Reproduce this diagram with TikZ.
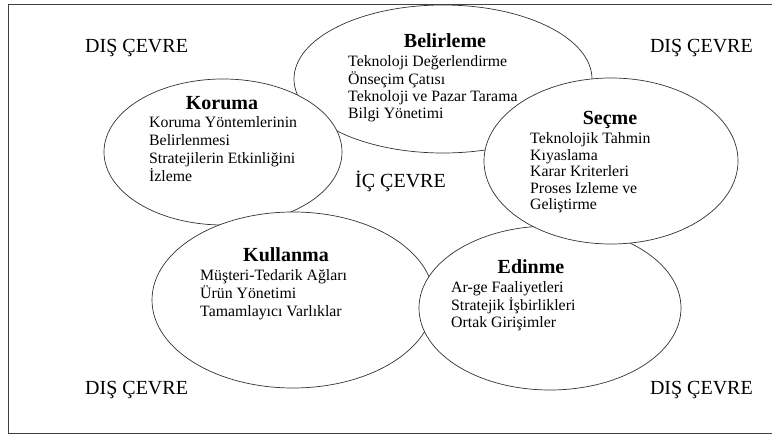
\documentclass[tikz,border=0pt]{standalone}
\usepackage{fontspec}
\setmainfont{Liberation Serif}
\tikzset{
    zone/.style={draw=black!80, line width=0.7pt, fill=white},
    zonetitle/.style={font=\fontsize{20}{22}\selectfont\bfseries, anchor=base, inner sep=0pt},
    zoneitem/.style={font=\fontsize{15.8}{17}\selectfont, anchor=base west, inner sep=0pt},
    envlabel/.style={font=\fontsize{20}{22}\selectfont, inner sep=0pt},
}
% one block of item lines: name, x, first baseline, line step, lines
\newcommand{\xitems}[5]{%
    \foreach \t [count=\k] in {#5}{%
        \node[zoneitem] (#1-\k) at (#2,#3+\k*#4-#4) {\t};
    }%
}

\begin{document}
\begin{tikzpicture}[x=1pt, y=-1pt]
        \useasboundingbox (0,0) rectangle (772,438);

        % ---------------- frame ----------------
        \draw[black!75, line width=0.8pt] (8,4) rectangle (790,433);

        % ---------------- zones ----------------
        \draw[zone] (443,79) ellipse [x radius=149, y radius=74];   % Belirleme
        \draw[zone] (223,152) ellipse [x radius=119, y radius=73];  % Koruma
        \draw[zone] (293,300) ellipse [x radius=141, y radius=88];  % Kullanma
        \draw[zone] (550,308) ellipse [x radius=131, y radius=82];  % Edinme
        \draw[zone] (611,161) ellipse [x radius=127, y radius=83];  % Secme

        % ---------------- zone texts ----------------
        \node[zonetitle] (belirleme) at (445,48) {Belirleme};
        \xitems{bel}{348}{67}{17.1}{Teknoloji Değerlendirme, Önseçim Çatısı,
            Teknoloji ve Pazar Tarama, Bilgi Yönetimi}

        \node[zonetitle] (koruma) at (222,110) {Koruma};
        \xitems{kor}{149}{128}{17.8}{Koruma Yöntemlerinin, Belirlenmesi,
            Stratejilerin Etkinliğini, İzleme}

        \node[zonetitle] (secme) at (610,125) {Seçme};
        \xitems{sec}{530}{144}{16.4}{Teknolojik Tahmin, Kıyaslama,
            Karar Kriterleri, Proses Izleme ve, Geliştirme}

        \node[zonetitle] (kullanma) at (286,262) {Kullanma};
        \xitems{kul}{200}{281}{17.8}{Müşteri-Tedarik Ağları, Ürün Yönetimi,
            Tamamlayıcı Varlıklar}

        \node[zonetitle] (edinme) at (531,274) {Edinme};
        \xitems{edi}{451}{293}{17.1}{Ar-ge Faaliyetleri, Stratejik İşbirlikleri,
            Ortak Girişimler}

        % ---------------- environment ----------------
        \node[envlabel, anchor=base west] (ic) at (355,188) {İÇ ÇEVRE};
        \node[envlabel, anchor=base west] (dis-nw) at (85,53) {DIŞ ÇEVRE};
        \node[envlabel, anchor=base east] (dis-ne) at (753,53) {DIŞ ÇEVRE};
        \node[envlabel, anchor=base west] (dis-sw) at (85,395) {DIŞ ÇEVRE};
        \node[envlabel, anchor=base east] (dis-se) at (753,395) {DIŞ ÇEVRE};

    \end{tikzpicture}
\end{document}
